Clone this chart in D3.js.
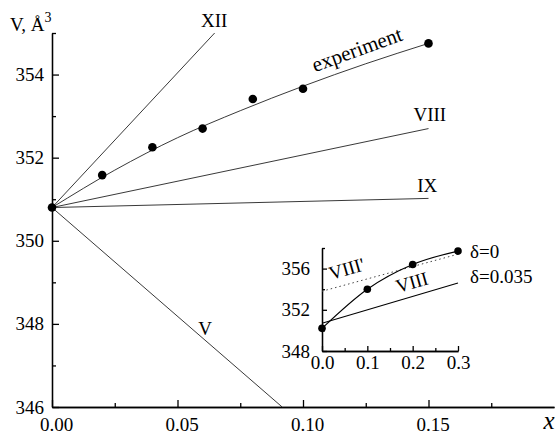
<!DOCTYPE html>
<html lang="en">
<head>
<meta charset="utf-8">
<title>V(x) with theory lines</title>
<script src="https://d3js.org/d3.v7.min.js"></script>
<style>
  body { margin: 0; background: #fff; }
  svg { display: block; font-family: "Liberation Serif", "Times New Roman", serif; }
  .axis path, .axis line { stroke: #000; stroke-width: 1.3; }
  .axis text { font-family: "Liberation Serif", "Times New Roman", serif; font-size: 19px; fill: #000; }
  .lbl { font-size: 19px; fill: #000; }
</style>
</head>
<body>
<script>
// experimental points
var expX = [0, 0.02, 0.04, 0.06, 0.08, 0.10, 0.15];
var expV = [350.8, 351.58, 352.25, 352.70, 353.41, 353.66, 354.75];
// experiment curve
var fitX = [0, 0.025, 0.05, 0.075, 0.10, 0.125, 0.15];
var fitV = [350.8, 351.70, 352.48, 353.13, 353.72, 354.26, 354.75];
// theory lines, all start at (0, 350.8)
var lineNames = ["XII", "VIII", "IX", "V"];
var lineX0 = 0, lineV0 = 350.8;
var lineX1 = [0.0648, 0.15, 0.15, 0.0917];
var lineV1 = [355.0, 352.7, 351.02, 346.0];
// ticks
var xMajor = [0, 0.05, 0.10, 0.15];
var xMinor = [0.025, 0.075, 0.125, 0.175];
var yMajor = [346, 348, 350, 352, 354];
var yMinor = [347, 349, 351, 353, 355];

// inset
var insX = [0, 0.1, 0.2, 0.3];
var insV = [350.2, 354.0, 356.4, 357.7];
var insLineX = [0, 0.3];
var insVIII = [350.7, 354.6];      // delta = 0.035
var insVIIIp = [353.8, 357.4];     // VIII', dotted
var insXMajor = [0, 0.1, 0.2, 0.3];
var insXMinor = [0.05, 0.15, 0.25];
var insYMajor = [348, 352, 356];
var insYMinor = [350, 354, 358];

var width = 560, height = 435;
var svg = d3.select("body").append("svg")
  .attr("width", width).attr("height", height);

// main scales
var x = d3.scaleLinear().domain([0, 0.2]).range([52, 554]);
var y = d3.scaleLinear().domain([346, 355]).range([407, 33]);

// axes
svg.append("g").attr("class", "axis")
  .attr("transform", "translate(0," + y(346) + ")")
  .call(d3.axisBottom(x).tickValues(xMinor).tickSize(-4).tickSizeOuter(0).tickFormat(""));
svg.append("g").attr("class", "axis")
  .attr("transform", "translate(0," + y(346) + ")")
  .call(d3.axisBottom(x).tickValues(xMajor).tickSize(-7).tickSizeOuter(0)
    .tickPadding(11).tickFormat(d3.format(".2f")))
  .selectAll("text").attr("dx", 4);
svg.append("g").attr("class", "axis")
  .attr("transform", "translate(" + x(0) + ",0)")
  .call(d3.axisLeft(y).tickValues(yMinor).tickSize(-4).tickSizeOuter(0).tickFormat(""));
svg.append("g").attr("class", "axis")
  .attr("transform", "translate(" + x(0) + ",0)")
  .call(d3.axisLeft(y).tickValues(yMajor).tickSize(-7).tickSizeOuter(0).tickPadding(8));

// axis titles
var yt = svg.append("text").attr("class", "lbl").attr("x", 10).attr("y", 31);
yt.append("tspan").text("V, Å");
yt.append("tspan").attr("dy", -9).style("font-size", "14px").text("3");
svg.append("text")
  .attr("x", 549).attr("y", 429)
  .attr("text-anchor", "middle")
  .style("font-style", "italic").style("font-size", "25px")
  .text("x");

// theory lines
svg.selectAll(".theory").data(lineNames).enter().append("line")
  .attr("class", "theory")
  .attr("x1", x(lineX0)).attr("y1", y(lineV0))
  .attr("x2", function(d, i) { return x(lineX1[i]); })
  .attr("y2", function(d, i) { return y(lineV1[i]); })
  .attr("stroke", "#222").attr("stroke-width", 0.9);

// experiment curve
var fitLine = d3.line()
  .x(function(d) { return x(d[0]); })
  .y(function(d) { return y(d[1]); })
  .curve(d3.curveMonotoneX);
svg.append("path")
  .datum(fitX.map(function(d, i) { return [d, fitV[i]]; }))
  .attr("d", fitLine)
  .attr("fill", "none").attr("stroke", "#222").attr("stroke-width", 0.9);

svg.selectAll(".pt").data(expX).enter().append("circle")
  .attr("class", "pt")
  .attr("cx", function(d) { return x(d); })
  .attr("cy", function(d, i) { return y(expV[i]); })
  .attr("r", 4.3).attr("fill", "#000");

// labels
svg.append("text").attr("class", "lbl").attr("text-anchor", "middle")
  .attr("x", x(0.0646)).attr("y", 27).text("XII");
svg.append("text").attr("class", "lbl")
  .attr("x", x(0.144)).attr("y", y(352.88)).text("VIII");
svg.append("text").attr("class", "lbl")
  .attr("x", x(0.1455)).attr("y", y(351.17)).text("IX");
svg.append("text").attr("class", "lbl").attr("text-anchor", "middle")
  .attr("x", x(0.061)).attr("y", y(347.73)).text("V");
svg.append("text").attr("class", "lbl").attr("text-anchor", "middle")
  .style("font-size", "21px")
  .attr("transform", "translate(" + x(0.1225) + "," + (y(354.59) + 6) + ") rotate(-20)")
  .text("experiment");

// ---- inset ----
var ix = d3.scaleLinear().domain([0, 0.3]).range([322, 458]);
var iy = d3.scaleLinear().domain([348, 358]).range([351, 248]);

svg.append("g").attr("class", "axis")
  .attr("transform", "translate(0," + iy(348) + ")")
  .call(d3.axisBottom(ix).tickValues(insXMinor).tickSize(-3).tickSizeOuter(0).tickFormat(""));
svg.append("g").attr("class", "axis")
  .attr("transform", "translate(0," + iy(348) + ")")
  .call(d3.axisBottom(ix).tickValues(insXMajor).tickSize(-5).tickSizeOuter(0)
    .tickPadding(5).tickFormat(d3.format(".1f")));
svg.append("g").attr("class", "axis")
  .attr("transform", "translate(" + ix(0) + ",0)")
  .call(d3.axisLeft(iy).tickValues(insYMinor).tickSize(-3).tickSizeOuter(0).tickFormat(""));
svg.append("g").attr("class", "axis")
  .attr("transform", "translate(" + ix(0) + ",0)")
  .call(d3.axisLeft(iy).tickValues(insYMajor).tickSize(-5).tickSizeOuter(0).tickPadding(12));
svg.selectAll(".axis path, .axis line").attr("stroke-width", 1);

var insLine = d3.line()
  .x(function(d) { return ix(d[0]); })
  .y(function(d) { return iy(d[1]); });

svg.append("path")
  .datum(insLineX.map(function(d, i) { return [d, insVIIIp[i]]; }))
  .attr("d", insLine)
  .attr("fill", "none").attr("stroke", "#444").attr("stroke-width", 1)
  .attr("stroke-dasharray", "1.5,3");
svg.append("path")
  .datum(insLineX.map(function(d, i) { return [d, insVIII[i]]; }))
  .attr("d", insLine)
  .attr("fill", "none").attr("stroke", "#000").attr("stroke-width", 1.1);
svg.append("path")
  .datum(insX.map(function(d, i) { return [d, insV[i]]; }))
  .attr("d", insLine.curve(d3.curveMonotoneX))
  .attr("fill", "none").attr("stroke", "#000").attr("stroke-width", 1.1);
svg.selectAll(".ipt").data(insX).enter().append("circle")
  .attr("class", "ipt")
  .attr("cx", function(d) { return ix(d); })
  .attr("cy", function(d, i) { return iy(insV[i]); })
  .attr("r", 3.8).attr("fill", "#000");

svg.append("text").attr("class", "lbl")
  .attr("transform", "translate(331,280) rotate(-16)").text("VIII'");
svg.append("text").attr("class", "lbl")
  .attr("transform", "translate(398,293) rotate(-16)").text("VIII");
svg.append("text").attr("class", "lbl")
  .attr("x", 470).attr("y", 258).text("δ=0");
svg.append("text").attr("class", "lbl")
  .attr("x", 470).attr("y", 283).text("δ=0.035");
</script>
</body>
</html>
